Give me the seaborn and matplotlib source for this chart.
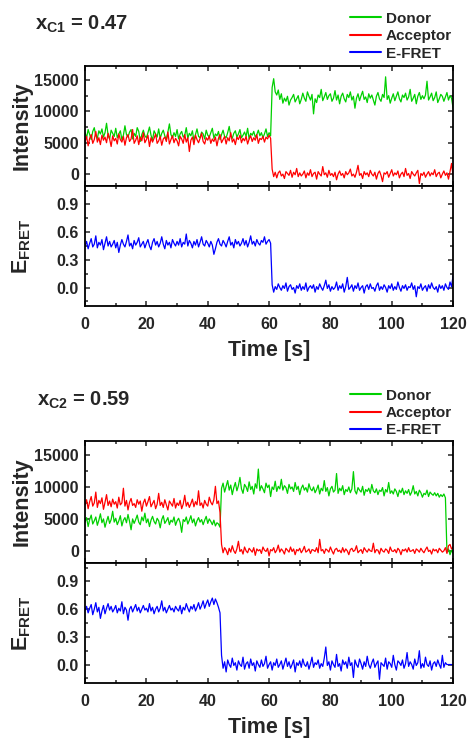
import numpy as np
import pandas as pd
import seaborn as sns
import matplotlib.pyplot as plt
from matplotlib.ticker import MultipleLocator

# one frame every 0.5 s, 120 s trace
time_s = np.linspace(0, 120, 241)

# ---- molecule 1 (x_C1 = 0.47) ----
# intensities in hundreds of counts, E_FRET in hundredths
donor1_before = [
    66, 58, 71, 63, 55, 68, 74, 61, 57, 69, 64, 72, 59, 66, 81, 62, 56, 70, 65, 60,
    73, 58, 64, 69, 55, 62, 77, 63, 59, 67, 71, 56, 65, 60, 74, 68, 52, 63, 70, 61,
    58, 66, 75, 62, 54, 69, 64, 59, 72, 57, 65, 70, 61, 55, 67, 80, 63, 58, 66, 60,
    71, 56, 64, 68, 59, 62, 74, 57, 65, 61, 69, 53, 63, 72, 60, 58, 67, 64, 56, 70,
    62, 59, 66, 73, 57, 64, 61, 68, 55, 63, 70, 60, 58, 66, 76, 61, 57, 65, 69, 59,
    64, 71, 58, 62, 67, 60, 73, 56, 65, 62, 68, 59, 63, 70, 61, 66, 58, 64, 72, 60,
    66, 61]
donor1_after = [
    138, 152, 131, 126, 134, 119, 128, 113, 121, 116, 124, 110, 118, 122, 127, 115, 120, 125, 112, 119,
    129, 121, 116, 131, 124, 118, 127, 96, 120, 114, 126, 122, 135, 117, 123, 130, 119, 125, 128, 116,
    121, 133, 118, 126, 112, 124, 129, 120, 115, 127, 122, 131, 118, 124, 105, 121, 128, 117, 125, 132,
    119, 123, 114, 128, 121, 126, 118, 110, 124, 130, 120, 116, 127, 122, 155, 119, 125, 113, 121, 128,
    117, 124, 131, 120, 115, 126, 122, 129, 118, 123, 135, 116, 121, 127, 112, 124, 130, 119, 125, 120,
    126, 148, 118, 123, 129, 117, 122, 131, 114, 120, 127, 124, 116, 123, 130, 118, 125, 121, 105]
acceptor1_before = [
    52, 60, 45, 57, 63, 49, 55, 68, 51, 58, 47, 62, 54, 59, 50, 65, 56, 44, 61, 53,
    57, 48, 64, 55, 51, 60, 46, 58, 63, 52, 56, 71, 49, 54, 61, 47, 59, 53, 66, 50,
    55, 62, 44, 58, 51, 57, 64, 49, 53, 60, 46, 56, 59, 52, 67, 48, 55, 61, 50, 57,
    53, 45, 60, 56, 49, 63, 51, 58, 36, 54, 59, 47, 62, 55, 50, 57, 65, 52, 48, 58,
    54, 61, 49, 56, 52, 59, 45, 57, 63, 50, 55, 60, 48, 58, 53, 66, 51, 56, 47, 59,
    55, 62, 50, 57, 53, 60, 48, 56, 61, 52, 58, 54, 63, 49, 57, 55, 60, 51, 59, 56,
    62, 57]
acceptor1_after = [
    8, -4, 3, -6, 2, 5, -3, 0, -7, 4, 1, -2, 6, -5, 3, -1, 9, -4, 2, -3,
    0, 5, -6, 2, -2, 7, -4, 1, 3, -8, 4, 0, -3, 12, -1, 2, -5, 6, -2, 1,
    -4, 3, -9, 0, 5, -2, 1, -6, 4, -1, 2, 8, -3, 0, -5, 3, 14, -2, 1, -7,
    4, -1, 2, -4, 6, 0, -3, 3, -8, 1, 5, -2, -12, 2, 0, 4, -5, 1, 7, -3,
    2, -1, 5, -6, 0, 3, -4, 9, -2, 1, -7, 4, 0, -3, 2, 6, -15, 1, -2, 3,
    -5, 0, 4, -3, 2, -1, 7, -4, 1, 3, -6, 0, 5, -2, 2, -8, 4, 17, -3]
efret1_before = [
    45, 50, 42, 48, 53, 44, 47, 56, 43, 49, 46, 52, 41, 48, 55, 45, 50, 44, 47, 51,
    43, 49, 38, 46, 52, 47, 44, 50, 57, 45, 48, 42, 51, 46, 49, 54, 44, 47, 50, 43,
    48, 52, 45, 41, 49, 53, 46, 50, 44, 48, 55, 47, 42, 51, 46, 49, 43, 52, 48, 45,
    50, 46, 53, 44, 49, 47, 58, 45, 51, 48, 43, 50, 46, 52, 44, 49, 55, 47, 45, 51,
    48, 44, 50, 46, 36, 42, 49, 53, 47, 45, 51, 48, 44, 50, 55, 46, 49, 43, 52, 47,
    50, 45, 48, 53, 46, 51, 44, 49, 56, 47, 50, 45, 52, 48, 46, 51, 49, 55, 47, 50,
    52, 48]
efret1_after = [
    3, -5, 1, -2, 4, 0, -3, 2, -1, 5, -4, 1, 3, -2, 0, -6, 2, -1, 4, -3,
    1, -2, 5, -4, 0, 2, -1, 3, -5, 1, -2, 4, 0, -3, 2, 8, -1, 3, -4, 1,
    -2, 0, 6, -3, 2, -1, 4, -5, 1, 11, -2, 0, 3, -4, 2, -1, 5, -3, 0, 2,
    -6, 1, 3, -2, 4, -1, 0, -4, 2, 5, -3, 1, -2, 3, 0, -5, 2, -1, 4, -3,
    1, -2, 6, 0, -4, 2, -1, 3, -3, 1, 0, 5, -2, 2, -10, 1, -1, 4, -3, 0,
    2, -4, 3, -1, 5, 0, -2, 1, -5, 3, -1, 2, -3, 4, 0, -2, 6, 1, 13]

# ---- molecule 2 (x_C2 = 0.59) ----
donor2_before = [
    45, 52, 38, 49, 56, 42, 47, 53, 40, 48, 58, 44, 50, 37, 46, 54, 43, 49, 62, 45,
    51, 41, 47, 55, 39, 48, 52, 44, 57, 46, 33, 50, 43, 49, 56, 45, 41, 53, 47, 59,
    44, 50, 38, 48, 54, 46, 42, 51, 47, 36, 49, 55, 43, 47, 52, 41, 48, 45, 53, 40,
    47, 51, 44, 29, 49, 46, 53, 42, 48, 55, 44, 50, 39, 47, 52, 45, 49, 41, 48, 54,
    43, 50, 46, 41, 48, 39, 44, 42, 37]
donor2_after = [
    98, 106, 92, 101, 110, 95, 103, 88, 99, 107, 94, 102, 115, 97, 90, 104, 100, 93, 108, 96,
    101, 89, 105, 98, 128, 94, 102, 97, 91, 106, 99, 103, 85, 100, 96, 109, 93, 101, 97, 112,
    95, 102, 99, 90, 104, 97, 100, 93, 107, 96, 101, 88, 98, 103, 95, 99, 92, 105, 97, 94,
    100, 91, 96, 103, 89, 98, 94, 110, 93, 99, 86, 97, 101, 92, 95, 121, 90, 98, 94, 102,
    88, 96, 93, 100, 91, 97, 124, 94, 89, 99, 95, 92, 101, 87, 96, 93, 98, 90, 104, 94,
    91, 97, 88, 95, 93, 99, 86, 96, 92, 107, 90, 94, 89, 97, 93, 85, 95, 91, 98, 88,
    94, 90, 96, 87, 92, 102, 89, 93, 86, 95, 91, 84, 90, 88, 95, 85, 92, 89, 87, 91,
    86, 90, 84, 88, 85, 89, 83,
    -2, 3, -6, 1, -4]
acceptor2_before = [
    72, 80, 66, 77, 85, 70, 75, 92, 68, 79, 74, 83, 65, 76, 88, 71, 78, 69, 81, 73,
    77, 67, 84, 72, 75, 98, 70, 79, 64, 76, 82, 71, 74, 68, 80, 73, 78, 62, 75, 81,
    70, 77, 85, 69, 74, 79, 66, 73, 90, 71, 76, 68, 80, 72, 64, 78, 74, 70, 82, 67,
    75, 71, 79, 66, 73, 87, 70, 76, 68, 74, 81, 69, 77, 72, 94, 71, 75, 67, 79, 73,
    70, 84, 76, 72, 80, 101, 74, 78, 60]
acceptor2_after = [
    10, -3, 5, 1, -6, 4, -2, 8, 0, -4, 3, 15, -1, 2, -5, 6, 0, -3, 4, 1,
    -2, 5, -7, 3, 0, 2, -4, 6, 1, -1, 4, -8, 2, 0, 5, -3, 1, 9, -2, 3,
    0, -5, 4, 1, -2, 6, -1, 3, -6, 2, 0, 4, -3, 1, 7, -2, 0, 3, -4, 2,
    1, -1, 5, -3, 18, 0, 2, -4, 3, 1, -2, 6, 0, -5, 2, 4, -1, 1, -3, 5,
    -2, 3, 0, -6, 2, 4, -1, 1, 8, -3, 0, 2, -4, 5, 1, -2, 3, 0, -1, 12,
    -3, 2, 1, -5, 4, 0, -2, 3, 1, -4, 6, 0, -1, 2, -3, 4, 1, -6, 2, 0,
    3, -2, 5, -1, 0, 2, -4, 3, 1, -2, 4, 0, -3, 2, 6, -1, 1, -5, 3, 0,
    2, -3, 4, 1, -2, 0, 5, -4, 8, 10, 3, 6]
efret2_before = [
    59, 63, 56, 61, 65, 54, 60, 67, 57, 62, 50, 58, 64, 55, 61, 66, 59, 63, 57, 60,
    64, 56, 61, 58, 68, 55, 62, 59, 48, 60, 63, 57, 61, 65, 58, 62, 56, 60, 64, 59,
    61, 57, 66, 58, 62, 55, 60, 63, 57, 61, 69, 58, 62, 56, 60, 64, 59, 61, 57, 63,
    60, 58, 64, 55, 62, 59, 66, 61, 57, 63, 60, 65, 58, 62, 67, 60, 64, 69, 61, 66,
    70, 63, 68, 72, 65, 71, 67, 62, 56]
efret2_after = [
    10, -4, 3, -8, 5, 0, -3, 7, -1, 2, -6, 4, 0, -2, 8, -5, 1, 3, -4, 6,
    -1, 2, -7, 4, 0, -3, 5, -2, 1, 9, -4, 0, 3, -6, 2, -1, 6, -3, 0, 4,
    -5, 1, 7, -2, 3, -4, 0, 5, -8, 2, -1, 4, -3, 6, 0, -2, 3, -5, 1, 8,
    -3, 2, 0, 5, -4, 1, -2, 7, 19, -1, 3, -6, 4, 0, -3, 11, -2, 1, -7, 5,
    0, 3, -4, 8, -1, 2, -14, 5, 0, -3, 6, 1, -5, 3, -2, 9, 0, -4, 2, 6,
    -3, 1, 4, -16, 2, 0, -2, 7, -5, 3, 1, -3, 10, 0, -6, 4, 2, -1, 5, -4,
    1, 13, -2, 3, 0, -5, 6, -1, 2, 15, -4, 1, -3, 8, 0, -2, 4, -6, 1, 3,
    -2, 5, 0, -4, 10, -3, 2,
    0, 0, 0, 0, 0]

titles = [r"$\mathbf{x_{C1}}$ = 0.47", r"$\mathbf{x_{C2}}$ = 0.59"]
legend_labels = ["Donor", "Acceptor", "E-FRET"]
GREEN, RED, BLUE = "#00d000", "#ff0000", "#0000ff"

sns.set_style("ticks")
plt.rcParams["font.family"] = ["Liberation Sans", "DejaVu Sans"]
plt.rcParams["font.weight"] = "bold"
plt.rcParams["axes.labelweight"] = "bold"
plt.rcParams["mathtext.fontset"] = "custom"
plt.rcParams["mathtext.rm"] = "Liberation Sans:bold"
plt.rcParams["mathtext.bf"] = "Liberation Sans:bold"
plt.rcParams["mathtext.it"] = "Liberation Sans:bold"

fig = plt.figure(figsize=(4.7, 7.4), dpi=100)

# [left, bottom, width, height] in figure fractions
panels = [
    dict(int_box=[0.181, 0.7486, 0.783, 0.162], e_box=[0.181, 0.5865, 0.783, 0.1621],
         title_xy=(0.074, 0.960), leg_y=0.984),
    dict(int_box=[0.181, 0.2392, 0.783, 0.1649], e_box=[0.181, 0.0770, 0.783, 0.1622],
         title_xy=(0.078, 0.452), leg_y=0.475),
]
traces = [
    (donor1_before + donor1_after, acceptor1_before + acceptor1_after, efret1_before + efret1_after),
    (donor2_before + donor2_after, acceptor2_before + acceptor2_after, efret2_before + efret2_after),
]


def style_axis(ax, ymajor, yminor):
    ax.set_xlim(0, 120)
    ax.xaxis.set_major_locator(MultipleLocator(20))
    ax.xaxis.set_minor_locator(MultipleLocator(10))
    ax.yaxis.set_major_locator(MultipleLocator(ymajor))
    ax.yaxis.set_minor_locator(MultipleLocator(yminor))
    ax.tick_params(which="both", direction="in", top=True, right=True, width=1.1,
                   labelsize=11.5)
    ax.tick_params(axis="x", pad=8)
    ax.tick_params(axis="y", pad=4.5)
    ax.tick_params(which="major", length=3.5)
    ax.tick_params(which="minor", length=2)
    for s in ax.spines.values():
        s.set_linewidth(1.3)
        s.set_color("black")
    for lab in ax.get_xticklabels() + ax.get_yticklabels():
        lab.set_fontweight("bold")


for panel, (donor, acceptor, efret), title in zip(panels, traces, titles):
    df = pd.DataFrame({
        "time": time_s,
        "donor": np.array(donor) * 100,
        "acceptor": np.array(acceptor) * 100,
        "efret": np.array(efret) / 100,
    })
    ax_i = fig.add_axes(panel["int_box"])
    ax_e = fig.add_axes(panel["e_box"])

    sns.lineplot(data=df, x="time", y="donor", ax=ax_i, color=GREEN, lw=0.9, label=legend_labels[0])
    sns.lineplot(data=df, x="time", y="acceptor", ax=ax_i, color=RED, lw=0.9, label=legend_labels[1])
    sns.lineplot(data=df, x="time", y="efret", ax=ax_e, color=BLUE, lw=0.9, label=legend_labels[2])

    ax_i.set_ylim(-1900, 17200)
    ax_e.set_ylim(-0.2, 1.1)
    style_axis(ax_i, 5000, 2500)
    style_axis(ax_e, 0.3, 0.15)
    ax_i.tick_params(labelbottom=False)
    ax_i.set_xlabel("")
    ax_i.set_ylabel("Intensity", fontsize=15.5, fontweight="bold")
    ax_e.set_ylabel(r"$\mathbf{E_{FRET}}$", fontsize=15.5)
    ax_e.set_xlabel("Time [s]", fontsize=15.5, fontweight="bold", labelpad=6)
    ax_i.yaxis.set_label_coords(-0.142, 0.5)
    ax_e.yaxis.set_label_coords(-0.142, 0.5)

    handles = ax_i.get_legend_handles_labels()[0] + ax_e.get_legend_handles_labels()[0]
    ax_i.get_legend().remove()
    ax_e.get_legend().remove()
    leg = fig.legend(handles, legend_labels, loc="upper right",
                     bbox_to_anchor=(0.962, panel["leg_y"]),
                     frameon=False, handlelength=2.0, handletextpad=0.35,
                     labelspacing=0.22, borderpad=0, borderaxespad=0,
                     prop={"weight": "bold", "size": 11})
    for h in leg.get_lines():
        h.set_linewidth(1.5)

    fig.text(panel["title_xy"][0], panel["title_xy"][1], title,
             fontsize=14.5, fontweight="bold", ha="left", va="baseline")

fig.savefig("out.png", dpi=100)
